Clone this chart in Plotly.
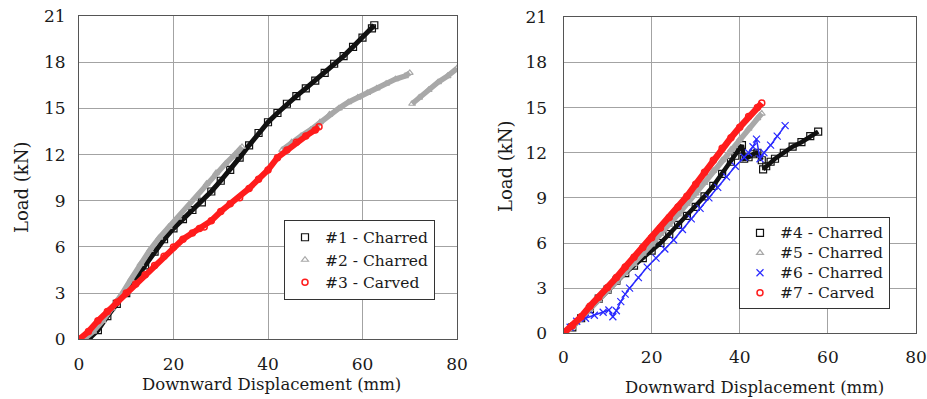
import plotly.graph_objects as go

# ---------------- Left panel: specimens #1-#3 ----------------
s1_disp = [2, 4, 6, 8, 10, 12, 14, 16, 18, 20, 22, 24, 26, 28, 30, 32, 34, 36, 38, 40,
           42, 44, 46, 48, 50, 52, 54, 56, 58, 60, 62, 62.5]
s1_load = [0.0, 0.6, 1.5, 2.3, 3.0, 3.9, 4.8, 5.7, 6.5, 7.2, 7.8, 8.4, 8.9, 9.6, 10.3, 11.0,
           11.8, 12.6, 13.4, 14.1, 14.7, 15.3, 15.8, 16.3, 16.8, 17.3, 17.9, 18.4, 19.0, 19.6,
           20.2, 20.4]

# None marks the load drops where the record is discontinuous
s2_disp = [1, 3, 5, 7, 9, 11, 13, 15, 17, 19, 21, 23, 25, 27, 29, 31, 33, 34.5, None,
           43, 45, 47, 49, 51, 53, 55, 57, 59, 61, 63, 65, 67, 69, 70, None,
           70.5, 72, 74, 76, 78, 80]
s2_load = [0.0, 0.5, 1.2, 2.0, 2.9, 3.9, 4.9, 5.8, 6.6, 7.3, 7.9, 8.6, 9.3, 10.1, 10.8, 11.4,
           12.0, 12.5, None,
           12.3, 12.8, 13.2, 13.6, 14.1, 14.6, 15.0, 15.4, 15.7, 16.0, 16.3, 16.6, 16.9, 17.1,
           17.3, None,
           15.3, 15.7, 16.2, 16.7, 17.1, 17.6]

s3_disp = [0, 2, 4, 6, 8, 10, 12, 14, 16, 18, 20, 22, 24, 25.5, 26.5, 28, 30, 32, 34, 36,
           38, 40, 42, 44, 46, 48, 50, 50.8]
s3_load = [0.0, 0.5, 1.2, 1.8, 2.4, 3.0, 3.6, 4.2, 4.8, 5.4, 6.0, 6.5, 6.9, 7.2, 7.3, 7.7,
           8.3, 8.8, 9.2, 9.8, 10.4, 11.0, 11.8, 12.3, 12.8, 13.2, 13.6, 13.8]

# ---------------- Right panel: specimens #4-#7 ----------------
s4_disp = [0, 2, 4, 6, 8, 10, 12, 14, 16, 18, 20, 22, 24, 26, 28, 30, 32, 34, 36, 38, 39,
           40, 40.5, 41, 42, 43, 44, 45, None,
           45.3, 46, 47, 48, 50, 52, 54, 56, 57.8]
s4_load = [0.0, 0.4, 1.0, 1.6, 2.3, 2.9, 3.5, 4.0, 4.5, 5.0, 5.5, 6.0, 6.6, 7.2, 7.8, 8.4,
           9.1, 9.8, 10.6, 11.4, 11.8, 12.2, 12.5, 11.6, 11.7, 11.9, 12.0, 11.5, None,
           10.9, 11.1, 11.4, 11.6, 12.0, 12.4, 12.7, 13.1, 13.4]

s5_disp = [0, 2, 4, 6, 8, 10, 12, 14, 16, 18, 20, 22, 24, 26, 28, 30, 32, 34, 36, 38, 40,
           42, 44, 45]
s5_load = [0.0, 0.4, 1.0, 1.6, 2.2, 2.8, 3.4, 4.0, 4.6, 5.3, 5.9, 6.6, 7.2, 7.9, 8.6, 9.3,
           10.0, 10.8, 11.5, 12.2, 12.9, 13.6, 14.3, 14.6]

s6_disp = [0, 1.5, 3, 5, 7, 9, 10.3, 11.2, 12, 13, 14, 15, 17, 19, 21, 23, 25, 27, 29, 31,
           33, 35, 37, 39, 41, 42, 43, 43.8, 44.6, 45.5, 47, 48.5, 50.3]
s6_load = [0.0, 0.4, 0.8, 1.0, 1.2, 1.4, 1.55, 1.1, 1.5, 2.1, 2.6, 3.0, 3.7, 4.4, 5.0, 5.6,
           6.2, 6.9, 7.6, 8.3, 9.0, 9.7, 10.4, 11.1, 11.7, 12.0, 12.4, 12.9, 11.6, 12.0, 12.5,
           13.1, 13.8]

s7_disp = [0, 2, 4, 6, 8, 10, 12, 14, 16, 18, 20, 22, 24, 26, 28, 30, 32, 34, 36, 38, 40,
           42, 44, 45]
s7_load = [0.0, 0.5, 1.1, 1.8, 2.4, 3.05, 3.7, 4.4, 5.05, 5.7, 6.35, 7.0, 7.7, 8.4, 9.1,
           9.9, 10.7, 11.5, 12.3, 13.0, 13.7, 14.4, 15.0, 15.3]

left_names = ["#1 - Charred", "#2 - Charred", "#3 - Carved"]
right_names = ["#4 - Charred", "#5 - Charred", "#6 - Charred", "#7 - Carved"]

x_ticks = [0, 20, 40, 60, 80]
y_ticks = [0, 3, 6, 9, 12, 15, 18, 21]
x_title = "Downward Displacement (mm)"
y_title = "Load (kN)"

BLACK = "#111111"
GRAY = "#a8a8a8"
RED = "#ff1c1c"
BLUE = "#2a2aff"
SERIF = "DejaVu Serif"
TEXT = "#1a1a1a"

fig = go.Figure()


def series(x, y, name, color, symbol, size, lw, xa, ya, legend, mlw=1.2):
    # continuous band underneath, then the sampled markers (the legend entry)
    fig.add_trace(go.Scatter(
        x=x, y=y, mode="lines", line=dict(color=color, width=lw),
        connectgaps=False, showlegend=False, hoverinfo="skip", xaxis=xa, yaxis=ya,
    ))
    fig.add_trace(go.Scatter(
        x=x, y=y, mode="markers",
        name='<span style="font-size:15.5px">' + name + "</span>",
        marker=dict(symbol=symbol, size=size, color=color,
                    line=dict(color=color, width=mlw)),
        xaxis=xa, yaxis=ya, legend=legend,
    ))


series(s1_disp, s1_load, left_names[0], BLACK, "square-open", 7, 5, "x", "y", "legend")
series(s2_disp, s2_load, left_names[1], GRAY, "triangle-up-open", 6, 5.5, "x", "y", "legend")
series(s3_disp, s3_load, left_names[2], RED, "circle-open", 6, 6, "x", "y", "legend", 1.5)

series(s4_disp, s4_load, right_names[0], BLACK, "square-open", 7, 4.5, "x2", "y2", "legend2")
series(s5_disp, s5_load, right_names[1], GRAY, "triangle-up-open", 6, 5.5, "x2", "y2", "legend2")
series(s6_disp, s6_load, right_names[2], BLUE, "x-thin-open", 7, 1.5, "x2", "y2", "legend2", 1.2)
series(s7_disp, s7_load, right_names[3], RED, "circle-open", 6, 6.5, "x2", "y2", "legend2", 1.5)

W, H = 927, 399

axis_common = dict(
    showgrid=True, gridcolor="#a3a3a3", gridwidth=1,
    showline=True, linecolor="#555555", linewidth=1, mirror=True,
    ticks="", zeroline=False, automargin=False,
    tickfont=dict(family=SERIF, size=17, color=TEXT),
)

legend_common = dict(
    xanchor="left", yanchor="top", bgcolor="white", bordercolor="#333333",
    borderwidth=1, itemwidth=30,
)

fig.update_layout(
    template="none",
    width=W, height=H,
    margin=dict(l=0, r=0, t=0, b=0, autoexpand=False),
    paper_bgcolor="white", plot_bgcolor="white",
    font=dict(family=SERIF, color=TEXT),
    xaxis=dict(domain=[79 / W, 457 / W], anchor="y", range=[0, 80], tickvals=x_ticks,
               ticklabelstandoff=9, **axis_common),
    yaxis=dict(domain=[1 - 339.3 / H, 1 - 16 / H], anchor="x", range=[0, 21],
               tickvals=y_ticks, ticklabelstandoff=9, **axis_common),
    xaxis2=dict(domain=[563.5 / W, 916 / W], anchor="y2", range=[0, 80], tickvals=x_ticks,
                ticklabelstandoff=8, **axis_common),
    yaxis2=dict(domain=[1 - 333.3 / H, 1 - 17.3 / H], anchor="x2", range=[0, 21],
                tickvals=y_ticks, ticklabelstandoff=12, **axis_common),
    legend=dict(x=284 / W, y=1 - 220 / H, font=dict(family=SERIF, size=15, color=TEXT),
                **legend_common),
    legend2=dict(x=739 / W, y=1 - 217 / H, font=dict(family=SERIF, size=13, color=TEXT),
                 **legend_common),
    showlegend=True,
)

for tx, ty in [(21, 188), (505, 167)]:
    fig.add_annotation(text=y_title, textangle=-90, x=tx / W, y=1 - ty / H,
                       xref="paper", yref="paper", xanchor="center", yanchor="middle",
                       showarrow=False, font=dict(family=SERIF, size=18, color=TEXT))
for tx, ty in [(271.7, 384), (754, 387)]:
    fig.add_annotation(text=x_title, x=tx / W, y=1 - ty / H,
                       xref="paper", yref="paper", xanchor="center", yanchor="middle",
                       showarrow=False, font=dict(family=SERIF, size=16.5, color=TEXT))

fig.write_html("out.html")
